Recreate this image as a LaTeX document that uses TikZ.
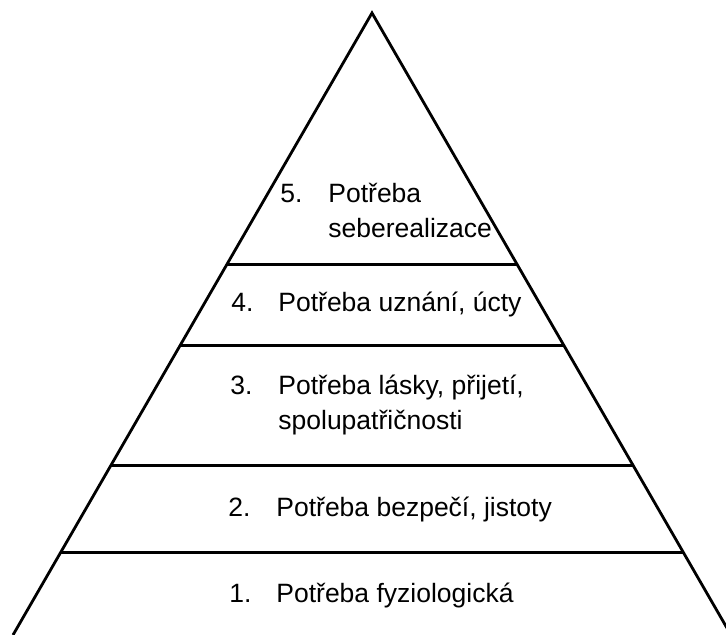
\documentclass[tikz,border=0pt]{standalone}
\usepackage{fontspec}
\setmainfont{Liberation Sans}
\usetikzlibrary{calc}

\begin{document}
\begin{tikzpicture}[x=0.5pt,y=0.5pt,line width=1.4pt,
		font=\fontsize{13.25pt}{17.5pt}\selectfont,
		num/.style={anchor=base west,inner sep=0pt},
		lbl/.style={anchor=base west,inner sep=0pt,align=left}]
		\useasboundingbox (0,0) rectangle (726,635);
		\clip (0,0) rectangle (726,635);
		% pyramid sides
		\coordinate (apex) at (372,622);
		\coordinate (bl) at (13,0);
		\coordinate (br) at (731,0);
		\draw (bl) -- (apex) -- (br);
		% level borders
		\foreach \t in {0.405,0.535,0.727,0.868}{
			\draw ($(apex)!\t!(bl)$) -- ($(apex)!\t!(br)$);
		}
		% levels (two-line labels sit on their last baseline)
		\node[num] (n5) at (279,432) {5.};
		\node[lbl] (t5) at (327,397) {Potřeba\\seberealizace};
		\node[num] (n4) at (230,323) {4.};
		\node[lbl] (t4) at (277,323) {Potřeba uznání, úcty};
		\node[num] (n3) at (229,240) {3.};
		\node[lbl] (t3) at (277,205) {Potřeba lásky, přijetí,\\spolupatřičnosti};
		\node[num] (n2) at (227,118) {2.};
		\node[lbl] (t2) at (275,118) {Potřeba bezpečí, jistoty};
		\node[num] (n1) at (228,32) {1.};
		\node[lbl] (t1) at (275,32) {Potřeba fyziologická};
	\end{tikzpicture}
\end{document}
